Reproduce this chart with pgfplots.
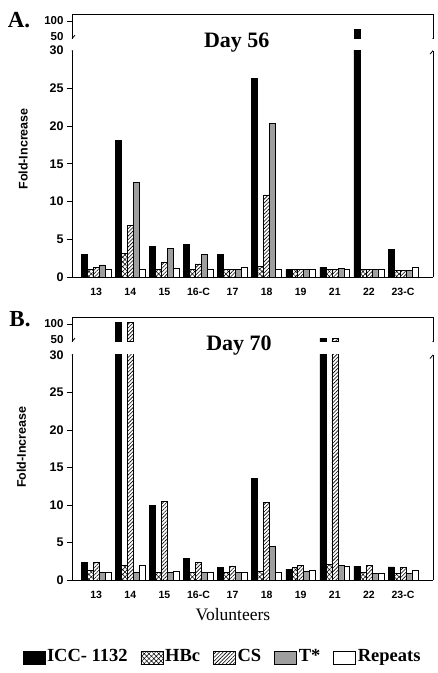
\documentclass[border=0pt]{standalone}
\usepackage{fontspec}
\setmainfont{Liberation Sans}
\newfontfamily\serif{Liberation Serif}
\usepackage{pgfplots}
\pgfplotsset{compat=1.18}
\usepackage{pgfplotstable}
\usetikzlibrary{patterns.meta}

% Day 56 (panel A)
\pgfplotstableread{
x icc hbc cs ts rep
0 3.0 1.0 1.3 1.6 1.0
1 18.1 3.1 6.8 12.5 1.0
2 4.1 1.0 2.0 3.8 1.1
3 4.3 1.0 1.75 3.0 1.0
4 3.0 1.0 1.0 1.0 1.3
5 26.3 1.45 10.9 20.4 1.0
6 1.0 1.0 1.0 1.0 1.0
7 1.3 1.0 1.0 1.1 1.0
8 75 1.0 1.0 1.0 1.0
9 3.65 0.9 0.9 0.9 1.3
}\dayA

% Day 70 (panel B)
\pgfplotstableread{
x icc hbc cs ts rep
0 2.35 1.3 2.4 1.0 1.1
1 105 2.0 105 1.0 2.0
2 9.9 1.0 10.5 1.0 1.2
3 2.9 1.0 2.4 1.0 1.0
4 1.7 1.0 1.9 1.0 1.0
5 13.5 1.15 10.35 4.5 1.0
6 1.45 1.7 2.0 1.15 1.35
7 56 2.1 56 1.95 1.8
8 1.85 1.0 1.95 0.9 0.9
9 1.75 0.9 1.65 0.9 1.25
}\dayB

\pgfplotsset{
  common/.style={scale only axis, width=361pt, xmin=-0.71, xmax=9.88,
    enlargelimits=false, axis line style={line width=0.8pt, black},
    tick align=outside, ytick pos=left, major tick length=5pt,
    tick style={line width=0.8pt, black},
    /pgf/number format/assume math mode=true,
    yticklabel style={font=\bfseries\fontsize{12.5}{14}\selectfont}},
  lowerax/.style={common, ymin=0, ymax=30,
    axis x line*=bottom, axis y line*=box,
    ytick={0,5,10,15,20,25}, extra y ticks={30},
    extra y tick style={tick style={draw=none}},
    xtick={0,...,9}, xticklabels={13,14,15,16-C,17,18,19,21,22,23-C},
    xtick style={draw=none},
    xticklabel style={font=\bfseries\fontsize{10.5}{12}\selectfont, yshift=-3pt},
    ylabel={Fold-Increase},
    ylabel style={font=\bfseries\fontsize{12.5}{14}\selectfont, anchor=center}},
  upperax/.style={common, height=24.6pt, ymin=45, ymax=122,
    restrict y to domain=40:1000,
    axis x line*=top, axis y line*=box, xtick=\empty,
    ytick={100}, extra y ticks={50},
    extra y tick style={tick style={draw=none}},
    yticklabel style={font=\bfseries\fontsize{11.5}{13}\selectfont}},
  barb/.style={ybar, bar width=0.175, draw=black, line width=0.5pt, forget plot},
  pICC/.style={barb, bar shift=-0.35, fill=black},
  pHBc/.style={barb, bar shift=-0.175, pattern={Hatch[angle=45,distance=3.4pt,line width=0.5pt]}},
  pCS/.style={barb, bar shift=0, pattern={Lines[angle=45,distance=2.6pt,line width=0.6pt]}},
  pTS/.style={barb, bar shift=0.175, fill=black!38},
  pRep/.style={barb, bar shift=0.35, fill=white},
}

\newcommand\allbars[1]{%
  \addplot[pICC] table[x=x,y=icc]{#1};
  \addplot[pHBc] table[x=x,y=hbc]{#1};
  \addplot[pCS] table[x=x,y=cs]{#1};
  \addplot[pTS] table[x=x,y=ts]{#1};
  \addplot[pRep] table[x=x,y=rep]{#1};
}
\newcommand\breaklow{%
  \draw[line width=0.8pt] (rel axis cs:0,1) ++(-3pt,-3.5pt) -- ++(6pt,7pt);
  \draw[line width=0.8pt] (rel axis cs:1,1) ++(-3pt,-3.5pt) -- ++(6pt,7pt);
}
\newcommand\breakup{%
  \draw[line width=0.8pt] (rel axis cs:0,0) ++(-3pt,-3.5pt) -- ++(6pt,7pt);
  \draw[line width=0.8pt] (rel axis cs:1,0) ++(-3pt,-3.5pt) -- ++(6pt,7pt);
}

\begin{document}
\begin{tikzpicture}[x=1pt,y=1pt]
\useasboundingbox (0,0) rectangle (438,673);

% ---------- Panel A: Day 56 ----------
\begin{axis}[lowerax, at={(72pt,396pt)}, anchor=south west, height=226.3pt,
  ylabel style={at={(axis description cs:-0.135,0.566)}}]
  \allbars{\dayA}
  \breaklow
\end{axis}
\begin{axis}[upperax, at={(72pt,634.4pt)}, anchor=south west]
  \allbars{\dayA}
  \breakup
\end{axis}

% ---------- Panel B: Day 70 ----------
\begin{axis}[lowerax, at={(72pt,93pt)}, anchor=south west, height=225pt,
  ylabel style={at={(axis description cs:-0.14,0.59)}},
  xlabel={Volunteers},
  xlabel style={font=\serif\fontsize{17.5}{20}\selectfont, at={(axis description cs:0.446,-0.178)}, anchor=base},
  legend image code/.code={\draw[#1] (0pt,-6.5pt) rectangle (22pt,6.5pt);},
  legend style={at={(0.417,-0.345)}, anchor=center, draw=none, fill=none,
    legend columns=5, font=\serif\bfseries\fontsize{18.5}{20}\selectfont,
    nodes={text height=8pt, text depth=0pt},
    /tikz/every even column/.append style={column sep=11pt},
    inner sep=0pt}]
  \allbars{\dayB}
  \breaklow
  \addlegendimage{draw=black, fill=black, line width=0.5pt}
  \addlegendentry{ICC- 1132}
  \addlegendimage{draw=black, line width=0.5pt, pattern={Hatch[angle=45,distance=3.4pt,line width=0.5pt]}}
  \addlegendentry{HBc}
  \addlegendimage{draw=black, line width=0.5pt, pattern={Lines[angle=45,distance=2.6pt,line width=0.6pt]}}
  \addlegendentry{CS}
  \addlegendimage{draw=black, line width=0.5pt, fill=black!38}
  \addlegendentry{T*}
  \addlegendimage{draw=black, line width=0.5pt, fill=white}
  \addlegendentry{Repeats}
\end{axis}
\begin{axis}[upperax, at={(72pt,331.4pt)}, anchor=south west]
  \allbars{\dayB}
  \breakup
\end{axis}

% ---------- titles and panel letters ----------
\node[anchor=base, font=\serif\bfseries\fontsize{22}{24}\selectfont] at (236.7,625) {Day 56};
\node[anchor=base, font=\serif\bfseries\fontsize{22}{24}\selectfont] at (239,322) {Day 70};
\node[anchor=base, font=\serif\bfseries\fontsize{23}{25}\selectfont] at (19,645) {A.};
\node[anchor=base, font=\serif\bfseries\fontsize{23}{25}\selectfont] at (20,346) {B.};
\end{tikzpicture}
\end{document}
